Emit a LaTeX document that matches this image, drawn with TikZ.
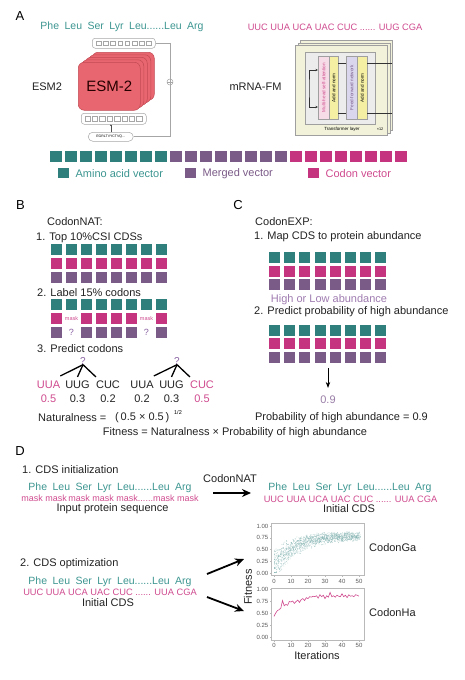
\documentclass[tikz,border=0pt]{standalone}
\usepackage{fontspec}
\setmainfont{Liberation Sans}
\usetikzlibrary{arrows.meta, positioning, calc}
\definecolor{aavec}{HTML}{2F7F7C}
\definecolor{mgvec}{HTML}{7A5A87}
\definecolor{cdvec}{HTML}{C4347F}
\definecolor{aatext}{HTML}{3C9590}
\definecolor{cdtext}{HTML}{CF4A8E}
\definecolor{lilac}{HTML}{9F7CB0}
\definecolor{qmark}{HTML}{8A62A3}
\definecolor{esmred}{HTML}{E8666F}
\definecolor{esmedge}{HTML}{C24A54}
\definecolor{tfpanel}{HTML}{F1F2D9}
\definecolor{tfpink}{HTML}{F6DCE6}
\definecolor{tfyellow}{HTML}{F4EFA3}
\definecolor{tfviolet}{HTML}{D9D6EE}
\definecolor{darktext}{HTML}{222222}
\newcommand{\wgap}{\hspace{5.5pt}}
\tikzset{
  panel/.style={font=\fontsize{13}{13}\selectfont, inner sep=0pt, text=black},
  txt/.style={font=\fontsize{11}{12}\selectfont, inner sep=0pt, text=darktext},
  aaseq/.style={font=\fontsize{10.5}{12}\selectfont, inner sep=0pt, text=aatext},
  cdseq/.style={font=\fontsize{9.3}{11}\selectfont, inner sep=0pt, text=cdtext},
  sq/.style={rectangle, minimum width=11pt, minimum height=11pt,
    inner sep=0pt, anchor=north west, draw=none},
  aasq/.style={sq, fill=aavec},
  mgsq/.style={sq, fill=mgvec},
  cdsq/.style={sq, fill=cdvec},
  masktxt/.style={font=\fontsize{5.5}{6}\selectfont, inner sep=0pt, text=cdtext},
  qtxt/.style={font=\fontsize{9}{10}\selectfont, inner sep=0pt, text=qmark},
  branch/.style={line width=1.3pt, black},
  arrow/.style={-{Stealth[length=6pt, width=4.5pt]}, thick, black},
  bigarrow/.style={-{Stealth[length=9pt, width=8pt]}, line width=1.8pt, black},
  esmlayer/.style={rectangle, rounded corners=6pt, fill=esmred, draw=esmedge,
    line width=0.5pt, minimum width=62pt, minimum height=48pt, inner sep=0pt,
    anchor=north west},
  tokbar/.style={rectangle, rounded corners=3pt, draw=gray!70, fill=white,
    line width=0.5pt, inner sep=0pt, anchor=north west},
  tok/.style={rectangle, draw=gray!70, fill=white, line width=0.4pt,
    minimum size=4.5pt, inner sep=0pt},
  resline/.style={draw=gray!70, line width=0.6pt},
  tfbox/.style={rectangle, draw=gray!75, line width=0.4pt, inner sep=0pt,
    anchor=north west},
  tflabel/.style={font=\fontsize{4.6}{5}\selectfont, inner sep=0pt, rotate=90},
  tfline/.style={line width=0.5pt, black!80},
  tick/.style={font=\fontsize{6}{6}\selectfont, inner sep=0pt, text=black!65},
  axbox/.style={rectangle, draw=gray!55, line width=0.5pt, inner sep=0pt,
    anchor=north west, minimum width=93pt, minimum height=52pt},
}

\begin{document}
\begin{tikzpicture}[x=1pt, y=-1pt]
  \useasboundingbox (0,0) rectangle (464,680);

  % A: encoders
  \node[panel] (labA) at (20,16.5) {A};
  \node[aaseq] (aseq) at (122,27) {Phe\wgap Leu\wgap Ser\wgap Lyr\wgap Leu......Leu\wgap Arg};
  \node[cdseq] (acod) at (335,27) {UUC UUA UCA UAC CUC ...... UUG CGA};
  \node[txt] (esmname) at (47,87) {ESM2};
  \node[txt] (fmname) at (255.5,87) {mRNA-FM};

  \foreach \k in {4,3,2,1,0}
    \node[esmlayer] (esm\k) at ({78+3.5*\k},{62-2.5*\k}) {};
  \node[font=\fontsize{15}{15}\selectfont, text=black!85!red, inner sep=0pt] (esmtxt) at (esm0.center) {ESM-2};
  \node[tokbar, minimum width=63pt, minimum height=10pt] (topbar) at (92,38) {};
  \foreach \i in {0,...,7}
    \node[tok] (tt\i) at ({98.5+7.2*\i},43) {};
  \node[tokbar, minimum width=65pt, minimum height=11pt] (botbar) at (81,113) {};
  \foreach \i in {0,...,7}
    \node[tok, minimum size=5.5pt] (bt\i) at ({87.5+7.4*\i},118.5) {};
  \node[tokbar, rounded corners=4.5pt, minimum width=45pt, minimum height=9pt,
    font=\fontsize{3.5}{4}\selectfont] (pill) at (88,132) {EGRLTVYCTVQ...};
  \draw[-{Stealth[length=1.5pt, width=1.6pt]}, line width=0.4pt, black!70]
    (pill.north) -- (pill.north |- botbar.south);
  \node[circle, draw=gray!70, fill=white, minimum size=6pt, inner sep=0pt,
    line width=0.5pt] (oplus) at (170,82) {};
  \draw[resline] (oplus.north) -- (oplus.south) (oplus.west) -- (oplus.east);
  \draw[resline] (topbar.east) -| (oplus.north);
  \draw[resline] (oplus.south) |- (pill.east);

  \node[tfbox, fill=tfpanel, minimum width=92pt, minimum height=90pt] (tfback2) at (300,40) {};
  \node[tfbox, fill=tfpanel, minimum width=92pt, minimum height=90pt] (tfback1) at (297.5,42.5) {};
  \node[tfbox, fill=tfpanel, minimum width=92pt, minimum height=90pt] (tffront) at (295,45) {};
  \node[tfbox, fill=gray!15, minimum width=70pt, minimum height=72pt] (tfinner) at (305,52) {};
  \node[tfbox, fill=tfpink, minimum width=11pt, minimum height=63pt] (mhsa) at (318,56) {};
  \node[tfbox, fill=tfyellow, minimum width=9pt, minimum height=63pt] (addnorm1) at (329,56) {};
  \node[tfbox, fill=tfviolet, minimum width=11pt, minimum height=63pt] (ffn) at (346,56) {};
  \node[tfbox, fill=tfyellow, minimum width=10pt, minimum height=63pt] (addnorm2) at (357,56) {};
  \node[tflabel, text=cdtext] (mhsatxt) at (mhsa.center) {Multi-head self-attention};
  \node[tflabel] (an1txt) at (addnorm1.center) {Add and norm};
  \node[tflabel, text=mgvec] (ffntxt) at (ffn.center) {Feed-forward network};
  \node[tflabel] (an2txt) at (addnorm2.center) {Add and norm};
  \coordinate (tfy1) at (0,63);
  \coordinate (tfy2) at (0,113);
  \coordinate (tfres) at (309,88);
  \draw[tfline] (addnorm1.east |- tfy1) -- (ffn.west |- tfy1);
  \draw[tfline] (addnorm1.east |- tfy2) -- (ffn.west |- tfy2);
  \draw[tfline] (addnorm2.east |- tfy1) -- (tfback2.east |- tfy1);
  \draw[tfline] (addnorm2.east |- tfy2) -- (tfback2.east |- tfy2);
  \draw[tfline, {Stealth[length=2.5pt, width=2.2pt]}-{Stealth[length=2.5pt, width=2.2pt]}]
    (mhsa.west |- 0,70) -| (tfres) |- (mhsa.west |- 0,107);
  \node[font=\fontsize{4.5}{5}\selectfont, inner sep=0pt] (tflayer) at (342,129.5) {Transformer layer};
  \node[font=\fontsize{3.8}{4}\selectfont, inner sep=0pt] (tfrep) at (380,129.5) {×12};

  \foreach \i in {0,...,7} {
    \node[aasq, minimum width=11.5pt] (va\i) at ({50+15*\i},151) {};
    \node[mgsq, minimum width=11.5pt] (vm\i) at ({170+15*\i},151) {};
    \node[cdsq, minimum width=11.5pt] (vc\i) at ({290+15*\i},151) {};
  }
  \node[aasq, minimum height=10pt] (legaa) at (58,168) {};
  \node[txt, text=aatext, anchor=west, right=6pt of legaa] (legaatxt) {Amino acid vector};
  \node[mgsq, minimum height=10pt] (legmg) at (185,168) {};
  \node[txt, text=mgvec, anchor=west, right=6pt of legmg] (legmgtxt) {Merged vector};
  \node[cdsq, minimum height=10pt] (legcd) at (308,168) {};
  \node[txt, text=cdtext, anchor=west, right=6pt of legcd] (legcdtxt) {Codon vector};

  % B: CodonNAT
  \node[panel] (labB) at (20.5,205.5) {B};
  \node[txt, anchor=west] (bnat) at (47,222) {CodonNAT:};
  \node[txt, anchor=west] (bstep1) at (36,238) {1. Top 10\%CSI CDSs};
  \foreach \i in {0,...,7} {
    \node[aasq] (b1a\i) at ({51+15*\i},244) {};
    \node[cdsq] (b1c\i) at ({51+15*\i},258) {};
    \node[mgsq] (b1m\i) at ({51+15*\i},272) {};
  }
  \node[txt, anchor=west] (bstep2) at (37,293) {2. Label 15\% codons};
  \foreach \i in {0,...,7}
    \node[aasq] (b2a\i) at ({51+15*\i},299) {};
  \foreach \i in {0,2,3,4,5,7} {
    \node[cdsq] (b2c\i) at ({51+15*\i},313) {};
    \node[mgsq] (b2m\i) at ({51+15*\i},327) {};
  }
  \foreach \i in {1,6} {
    \node[masktxt] (mask\i) at ({56.5+15*\i},318.5) {mask};
    \node[qtxt] (qm\i) at ({56.5+15*\i},332.5) {?};
  }
  \node[txt, anchor=west] (bstep3) at (37,349) {3. Predict codons};
  \node[qtxt, font=\fontsize{10}{10}\selectfont] (pq1) at (83,361) {?};
  \node[qtxt, font=\fontsize{10}{10}\selectfont] (pq2) at (177,361) {?};
  \node[txt, text=cdtext] (p1a) at (48.5,385) {UUA};
  \node[txt] (p1b) at (77.5,385) {UUG};
  \node[txt] (p1c) at (108,385) {CUC};
  \node[txt] (p2a) at (142,385) {UUA};
  \node[txt] (p2b) at (171.5,385) {UUG};
  \node[txt, text=cdtext] (p2c) at (202,385) {CUC};
  \node[txt, text=cdtext] (s1a) at (48.5,399) {0.5};
  \node[txt] (s1b) at (77.5,399) {0.3};
  \node[txt] (s1c) at (108,399) {0.2};
  \node[txt] (s2a) at (142,399) {0.2};
  \node[txt] (s2b) at (171.5,399) {0.3};
  \node[txt, text=cdtext] (s2c) at (202,399) {0.5};
  \draw[branch] (pq1.south) -- ([yshift=5pt]p1a.north east);
  \draw[branch] (pq1.south) -- ([yshift=4pt]p1b.north);
  \draw[branch] (pq1.south) -- ([yshift=4pt]p1c.north west);
  \draw[branch] (pq2.south) -- ([yshift=5pt]p2a.north east);
  \draw[branch] (pq2.south) -- ([yshift=4pt]p2b.north);
  \draw[branch] (pq2.south) -- ([yshift=4pt]p2c.north west);
  \node[txt, anchor=west] (nat) at (38,418) {Naturalness =};
  \node[txt, anchor=west] (natval) at (115,418) {(\,0.5 × 0.5\,)};
  \node[font=\fontsize{5.5}{6}\selectfont, inner sep=0pt] (natexp) at (178,413) {1/2};
  \node[txt] (fitness) at (235,433) {Fitness = Naturalness × Probability of high abundance};

  % C: CodonEXP
  \node[panel] (labC) at (238,205.5) {C};
  \node[txt, anchor=west] (cexp) at (255,222) {CodonEXP:};
  \node[txt, anchor=west] (cstep1) at (254,237) {1. Map CDS to protein abundance};
  \foreach \i in {0,...,7} {
    \node[aasq] (c1a\i) at ({269+15.1*\i},252) {};
    \node[cdsq] (c1c\i) at ({269+15.1*\i},266) {};
    \node[mgsq] (c1m\i) at ({269+15.1*\i},279) {};
  }
  \node[txt, text=lilac] (hilo) at (329,300) {High or Low abundance};
  \node[txt, anchor=west] (cstep2) at (254,312) {2. Predict probability of high abundance};
  \foreach \i in {0,...,7} {
    \node[aasq] (c2a\i) at ({269+15.1*\i},325) {};
    \node[cdsq] (c2c\i) at ({269+15.1*\i},338) {};
    \node[mgsq] (c2m\i) at ({269+15.1*\i},352) {};
  }
  \coordinate (c2bot) at (328,368);
  \node[txt, text=lilac!80!gray] (pnine) at (328,400) {0.9};
  \draw[arrow] (c2bot) -- ([yshift=8pt]pnine.north);
  \node[txt] (pabund) at (341.5,418) {Probability of high abundance = 0.9};

  % D: optimisation
  \node[panel] (labD) at (20,451) {D};
  \node[txt, anchor=west] (dstep1) at (22,470) {1. CDS initialization};
  \node[aaseq] (dseq1) at (110,488) {Phe\wgap Leu\wgap Ser\wgap Lyr\wgap Leu......Leu\wgap Arg};
  \node[cdseq, font=\fontsize{9}{10}\selectfont] (dmask) at (110,498) {mask mask\,mask mask mask......mask mask};
  \node[txt] (dinput) at (112.5,509) {Input protein sequence};
  \node[txt] (natlabel) at (230,479) {CodonNAT};
  \coordinate (natfrom) at (213,493);
  \coordinate (natto) at (251,493);
  \draw[bigarrow] (natfrom) -- (natto);
  \node[aaseq] (dseq2) at (350,488) {Phe\wgap Leu\wgap Ser\wgap Lyr\wgap Leu......Leu\wgap Arg};
  \node[cdseq] (dcod1) at (350.5,499) {UUC UUA UCA UAC CUC ...... UUA CGA};
  \node[txt] (dinit1) at (349,509) {Initial CDS};

  \node[txt, anchor=west] (dstep2) at (20,564) {2. CDS optimization};
  \node[aaseq] (dseq3) at (110,582) {Phe\wgap Leu\wgap Ser\wgap Lyr\wgap Leu......Leu\wgap Arg};
  \node[cdseq] (dcod2) at (110,592) {UUC UUA UCA UAC CUC ...... UUA CGA};
  \node[txt] (dinit2) at (108,603) {Initial CDS};
  \coordinate (optfrom1) at (207,574);
  \coordinate (optto1) at (244,559);
  \coordinate (optfrom2) at (207,597);
  \coordinate (optto2) at (244,611);
  \draw[bigarrow] (optfrom1) -- (optto1);
  \draw[bigarrow] (optfrom2) -- (optto2);

  \node[axbox] (gaplot) at (271,523) {};
  \node[axbox] (haplot) at (271,588) {};
  \foreach \t in {0,10,20,30,40,50} {
    \node[tick] (gax\t) at ({274+1.7*\t},581) {\t};
    \node[tick] (hax\t) at ({274+1.7*\t},645) {\t};
    \draw[gray!55, line width=0.4pt] ({274+1.7*\t},575) -- ++(0,1.5);
    \draw[gray!55, line width=0.4pt] ({274+1.7*\t},640) -- ++(0,1.5);
  }
  \foreach \v/\l in {0/0.00,0.25/0.25,0.5/0.50,0.75/0.75,1/1.00} {
    \node[tick, anchor=east] (gay\l) at (268.5,{573-47*\v}) {\l};
    \node[tick, anchor=east] (hay\l) at (268.5,{637-48*\v}) {\l};
    \draw[gray!55, line width=0.4pt] (271,{573-47*\v}) -- ++(-1.5,0);
    \draw[gray!55, line width=0.4pt] (271,{637-48*\v}) -- ++(-1.5,0);
  }
  \pgfmathsetseed{11}
  \foreach \ii in {0,...,50} {
    \foreach \jj in {1,...,26} {
      \pgfmathsetmacro{\yv}{0.79-0.64*exp(-\ii/12)+(rand+rand)*(0.05+0.15*exp(-\ii/14))}
      \pgfmathsetmacro{\yc}{min(max(\yv,0.01),0.99)}
      \pgfmathsetmacro{\xv}{max(\ii+0.8*rand,0.3)}
      \fill[aavec!60, opacity=0.6] ({274+1.7*\xv},{573-47*\yc}) circle (0.45pt);
    }
  }
  \draw[cdtext, line width=0.6pt] (274,{637-48*0.43})
    \foreach \ii/\vv in {1/0.50,2/0.55,3/0.57,4/0.60,5/0.76,6/0.65,7/0.68,8/0.66,9/0.74,
      10/0.73,11/0.75,12/0.70,13/0.74,14/0.77,15/0.72,16/0.78,17/0.80,18/0.76,19/0.82,
      20/0.80,21/0.84,22/0.83,23/0.85,24/0.84,25/0.86,26/0.81,27/0.88,28/0.84,29/0.87,
      30/0.80,31/0.86,32/0.83,33/0.93,34/0.84,35/0.86,36/0.83,37/0.87,38/0.85,39/0.84,
      40/0.90,41/0.84,42/0.87,43/0.82,44/0.88,45/0.85,46/0.86,47/0.84,48/0.88,49/0.87,50/0.85}
    { -- ({274+1.7*\ii},{637-48*\vv}) };
  \node[txt, rotate=90] (fitlab) at (248,587) {Fitness};
  \node[txt] (iterlab) at (317,656) {Iterations};
  \node[txt, anchor=west] (galab) at (369,548) {CodonGa};
  \node[txt, anchor=west] (halab) at (369,613) {CodonHa};
\end{tikzpicture}
\end{document}
